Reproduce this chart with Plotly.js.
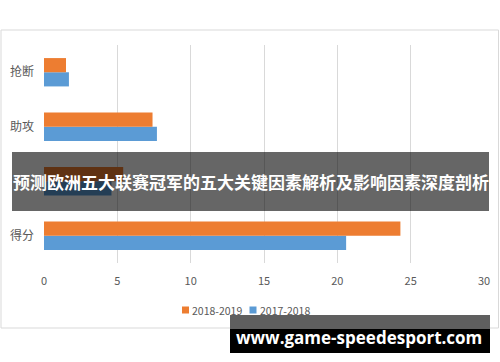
<!DOCTYPE html>
<html>
<head>
<meta charset="utf-8">
<script src="https://cdn.plot.ly/plotly-3.0.1.min.js"></script>
<style>html,body{margin:0;padding:0;background:#fff;}#chart{width:500px;height:362px;}</style>
</head>
<body>
<div id="chart"></div>
<script>
const categories = ['得分', '篮板', '助攻', '抢断'];
const categoryLabels = ['得分', '', '助攻', '抢断'];
const season2018_2019 = [24.3, 5.4, 7.4, 1.5];
const season2017_2018 = [20.6, 4.6, 7.7, 1.7];
const seriesNames = ['2018-2019', '2017-2018'];
const seriesColors = ['#ED7D31', '#5B9BD5'];
const xTicks = [0, 5, 10, 15, 20, 25, 30];
const bannerTitle = '预测欧洲五大联赛冠军的五大关键因素解析及影响因素深度剖析';
const watermark = 'www.game-speedesport.com';

const traces = [
  {type:'bar', orientation:'h', name:seriesNames[1], y:categories, x:season2017_2018,
   marker:{color:seriesColors[1]}, hoverinfo:'skip', showlegend:false},
  {type:'bar', orientation:'h', name:seriesNames[0], y:categories, x:season2018_2019,
   marker:{color:seriesColors[0]}, hoverinfo:'skip', showlegend:false}
];

function px(x){return (x-44)/440;}
function py(y){return (263-y)/218;}

const shapes = [
  {type:'rect', xref:'paper', yref:'paper', x0:px(1), x1:px(498.5), y0:py(328), y1:py(30),
   line:{color:'#d9d9d9', width:1}, fillcolor:'rgba(0,0,0,0)', layer:'below'},
  {type:'rect', xref:'paper', yref:'paper', x0:px(12), x1:px(489), y0:py(211), y1:py(152),
   line:{width:0}, fillcolor:'rgba(0,0,0,0.6)', layer:'above'},
  {type:'rect', xref:'paper', yref:'paper', x0:px(230), x1:px(490), y0:py(353), y1:py(315),
   line:{width:0}, fillcolor:'#000000', layer:'above'},
  {type:'rect', xref:'paper', yref:'paper', x0:px(230), x1:px(490), y0:py(329), y1:py(315),
   line:{width:0}, fillcolor:'#5f5f5f', layer:'above'}
];
// legend swatches
const legendX = [182, 249.5];
seriesNames.forEach((n,i)=>{
  shapes.push({type:'rect', xref:'paper', yref:'paper', x0:px(legendX[i]), x1:px(legendX[i]+7),
    y0:py(313.5), y1:py(306.5), line:{width:0}, fillcolor:seriesColors[i], layer:'above'});
});

const annotations = [
  {xref:'paper', yref:'paper', x:px(250.5), y:py(181), xanchor:'center', yanchor:'middle',
   text:'<b>'+bannerTitle+'</b>', showarrow:false, font:{size:17, color:'#ffffff', family:'"Noto Sans CJK SC", sans-serif'}},
  {xref:'paper', yref:'paper', x:px(359), y:py(337), xanchor:'center', yanchor:'middle',
   text:'<b>'+watermark+'</b>', showarrow:false, font:{size:17, color:'#ffffff', family:'"Open Sans", "DejaVu Sans", sans-serif'}}
];
seriesNames.forEach((n,i)=>{
  annotations.push({xref:'paper', yref:'paper', x:px(legendX[i]+9), y:py(310), xanchor:'left', yanchor:'middle',
    text:n, showarrow:false, borderpad:0, font:{size:10.5, color:'#595959'}});
});

const layout = {
  width:500, height:362,
  margin:{l:44, r:16, t:45, b:99},
  paper_bgcolor:'#ffffff', plot_bgcolor:'#ffffff',
  barmode:'group', bargap:0.48, bargroupgap:0,
  font:{family:'"Noto Sans CJK SC", "Microsoft YaHei", sans-serif', color:'#595959'},
  xaxis:{range:[0,30], tickvals:xTicks, ticktext:xTicks.map(String), showgrid:true, gridcolor:'#d9d9d9', gridwidth:1,
         zeroline:false, showline:false, ticks:'', ticklabelstandoff:10, tickfont:{size:11, color:'#595959'}, fixedrange:true},
  yaxis:{categoryorder:'array', categoryarray:categories, tickvals:categories, ticktext:categoryLabels,
         showgrid:false, zeroline:false, showline:false,
         ticks:'', ticklabelstandoff:9, tickfont:{size:12, color:'#595959'}, fixedrange:true},
  showlegend:false,
  shapes:shapes,
  annotations:annotations
};

Plotly.newPlot('chart', traces, layout, {staticPlot:true, displayModeBar:false});
</script>
</body>
</html>
